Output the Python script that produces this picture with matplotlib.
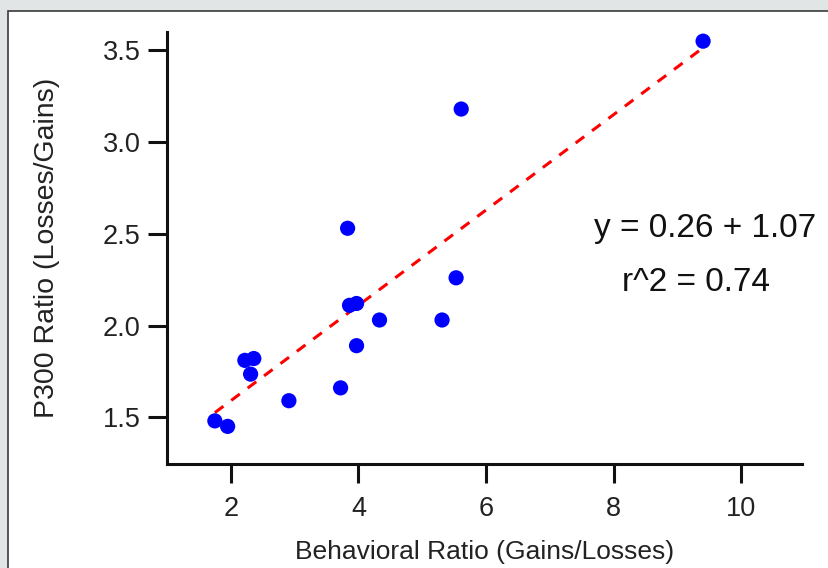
import matplotlib
matplotlib.use("Agg")
import matplotlib.pyplot as plt
from matplotlib.patches import Rectangle
import numpy as np

# behavioral ratio (gains/losses) vs P300 ratio (losses/gains)
behavioral = [1.75, 1.95, 2.22, 2.36, 2.31, 2.91, 3.72, 3.83, 3.86, 3.97, 3.97,
              4.33, 5.31, 5.53, 5.61, 9.40]
p300 = [1.48, 1.45, 1.81, 1.82, 1.735, 1.59, 1.66, 2.53, 2.11, 2.12, 1.89,
        2.03, 2.03, 2.26, 3.18, 3.55]

# fitted line as printed on the figure
intercept = 1.07
slope = 0.26
eq_text = "y = 0.26 + 1.07"
r2_text = "r^2 = 0.74"

x_ticks = [2, 4, 6, 8, 10]
y_ticks = [1.5, 2.0, 2.5, 3.0, 3.5]

plt.rcParams['font.family'] = ['Liberation Sans', 'DejaVu Sans']

W, H = 829, 568
fig = plt.figure(figsize=(W / 100, H / 100), dpi=100, facecolor='#e1e5e5')

# white panel with dark border (runs off the right and bottom edges)
panel = Rectangle((8 / W, -0.1), 1.2, (H - 11) / H + 0.1, transform=fig.transFigure,
                  facecolor='white', edgecolor='#3a3a3a', linewidth=1.2, zorder=-10)
fig.patches.append(panel)

ax = fig.add_axes([167 / W, (H - 464) / H, (802 - 167) / W, (464 - 32) / H])
ax.set_facecolor('none')
ax.set_zorder(5)

ax.scatter(behavioral, p300, s=120, color='#0000ff', edgecolors='none', zorder=3)

xs = np.array([min(behavioral), max(behavioral)])
ax.plot(xs, intercept + slope * xs, color='#ff0000', lw=2.2, dashes=(3.5, 3.2), zorder=2)

ax.set_xlim(1.0, 10.95)
ax.set_ylim(1.245, 3.6)
ax.set_xticks(x_ticks)
ax.set_xticklabels([str(v) for v in x_ticks])
ax.set_yticks(y_ticks)
ax.set_yticklabels(["%.1f" % v for v in y_ticks])

for side in ['top', 'right']:
    ax.spines[side].set_visible(False)
for side in ['left', 'bottom']:
    ax.spines[side].set_linewidth(2.2)
    ax.spines[side].set_color('#111111')

ax.tick_params(axis='both', direction='out', length=14, width=2.2, color='#111111',
               labelsize=19.5, labelcolor='#222222')
ax.tick_params(axis='x', pad=9)
ax.tick_params(axis='y', pad=5)

ax.set_xlabel("Behavioral Ratio (Gains/Losses)", fontsize=19, color='#222222')
ax.set_ylabel("P300 Ratio (Losses/Gains)", fontsize=20.5, color='#222222')
ax.xaxis.set_label_coords(0.5, -0.175)
ax.yaxis.set_label_coords(-0.168, 0.5)

ax.text(0.847, 0.544, eq_text, transform=ax.transAxes, ha='center', va='center',
        fontsize=24, color='#111111')
ax.text(0.833, 0.421, r2_text, transform=ax.transAxes, ha='center', va='center',
        fontsize=24, color='#111111')

fig.savefig("out.png", dpi=100, facecolor=fig.get_facecolor())
